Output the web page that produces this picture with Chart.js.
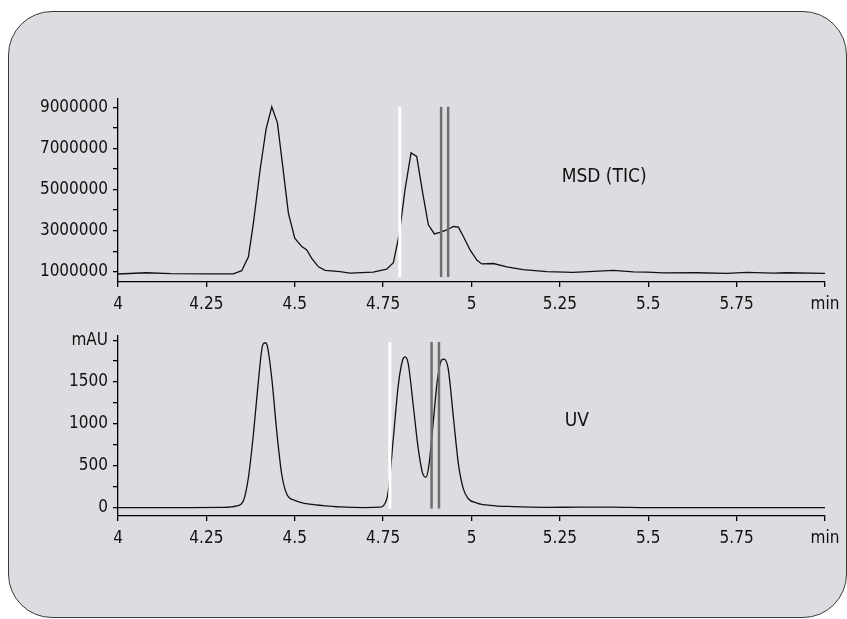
<!DOCTYPE html>
<html>
<head>
<meta charset="utf-8">
<script src="https://cdn.jsdelivr.net/npm/chart.js@4/dist/chart.umd.min.js"></script>
<style>
  html, body { margin: 0; padding: 0; background: #fff; }
  #wrap { position: relative; width: 847px; height: 619px; overflow: hidden; }
  #panel {
    position: absolute; left: 8px; top: 11px; width: 839px; height: 607px;
    box-sizing: border-box; border: 1.5px solid #3a3a3a; border-radius: 44px;
    background: #dcdde0;
  }
  canvas { position: absolute; left: 0; }
</style>
</head>
<body>
<div id="wrap">
  <div id="panel"></div>
  <canvas id="msd-chart" width="847" height="250" style="top:80px"></canvas>
  <canvas id="uv-chart" width="847" height="250" style="top:320px"></canvas>
</div>
<script>
const FONT = '"Liberation Sans Narrow", "DejaVu Sans Condensed", sans-serif';

// time axis (min), shared by both traces
const timeTicks = [4, 4.25, 4.5, 4.75, 5, 5.25, 5.5, 5.75, 6];
const timeTickLabels = ['4', '4.25', '4.5', '4.75', '5', '5.25', '5.5', '5.75', 'min'];

// MSD total ion current
const msdTime = [4.0, 4.08, 4.15, 4.25, 4.326, 4.35, 4.369, 4.383, 4.402, 4.419,
  4.435, 4.451, 4.466, 4.482, 4.5, 4.52, 4.534, 4.548, 4.567, 4.586,
  4.628, 4.656, 4.722, 4.76, 4.779, 4.796, 4.812, 4.829, 4.845, 4.862,
  4.878, 4.895, 4.911, 4.93, 4.949, 4.963, 4.977, 4.996, 5.015, 5.029,
  5.062, 5.1, 5.146, 5.213, 5.288, 5.345, 5.401, 5.458, 5.496, 5.543,
  5.637, 5.722, 5.778, 5.854, 5.891, 6.0];
const msdSignal = [890000, 950000, 910000, 900000, 900000, 1050000, 1730000, 3360000, 5960000, 7950000,
  9020000, 8240000, 6120000, 3850000, 2630000, 2220000, 2060000, 1650000, 1240000, 1070000,
  1000000, 930000, 980000, 1120000, 1440000, 2870000, 4990000, 6780000, 6610000, 4820000,
  3280000, 2840000, 2910000, 3030000, 3200000, 3170000, 2710000, 2060000, 1570000, 1380000,
  1400000, 1240000, 1100000, 1000000, 970000, 1020000, 1070000, 990000, 980000, 940000,
  950000, 920000, 970000, 930000, 950000, 920000];
const msdTicks = [1e6, 2e6, 3e6, 4e6, 5e6, 6e6, 7e6, 8e6, 9e6];
const msdTickLabels = ['1000000', '', '3000000', '', '5000000', '', '7000000', '', '9000000'];

// UV absorbance
const uvTime = [4.0, 4.2, 4.3, 4.336, 4.355, 4.369, 4.383, 4.397, 4.409, 4.416,
  4.422, 4.435, 4.449, 4.463, 4.477, 4.5, 4.534, 4.581, 4.628, 4.7,
  4.741, 4.751, 4.764, 4.779, 4.793, 4.805, 4.812, 4.821, 4.835, 4.849,
  4.861, 4.871, 4.88, 4.892, 4.903, 4.915, 4.922, 4.934, 4.949, 4.963,
  4.977, 4.991, 5.015, 5.052, 5.118, 5.213, 5.3, 5.401, 5.496, 5.75, 6.0];
const uvAbs = [0, 0, 2, 20, 86, 362, 875, 1505, 1938, 1970,
  1938, 1544, 914, 402, 165, 86, 47, 24, 8, 0,
  5, 24, 180, 835, 1466, 1761, 1800, 1721, 1229, 716,
  421, 362, 520, 1032, 1505, 1761, 1773, 1662, 1071, 520,
  224, 106, 55, 27, 12, 4, 5, 6, 0, 0, 0];
const uvTicks = [0, 250, 500, 750, 1000, 1250, 1500, 1750, 2000];
const uvTickLabels = ['0', '', '500', '', '1000', '', '1500', '', 'mAU'];

// fraction trigger (white) and collection window (grey) markers
const msdTrigger = 4.797;
const msdWindow = [4.914, 4.934];
const msdMarkRange = [740000, 9020000];
const uvTrigger = 4.769;
const uvWindow = [4.887, 4.908];
const uvMarkRange = [-10, 1980];

const curveLabel = {
  id: 'curveLabel',
  afterDatasetsDraw(chart, args, opts) {
    const { ctx, scales: { x, y } } = chart;
    ctx.save();
    ctx.font = '19px ' + FONT;
    ctx.fillStyle = '#111';
    ctx.textBaseline = 'middle';
    ctx.fillText(opts.text, x.getPixelForValue(opts.x), y.getPixelForValue(opts.y));
    ctx.restore();
  }
};

function vline(t, range, color, width) {
  return {
    data: [{ x: t, y: range[0] }, { x: t, y: range[1] }],
    borderColor: color, borderWidth: width, pointRadius: 0, order: 0
  };
}

function makeChart(id, o) {
  const axisFont = { family: FONT, size: 17 };
  const datasets = [
    vline(o.trigger, o.markRange, '#ffffff', 3),
    ...o.window.map(t => vline(t, o.markRange, '#6e6e6e', 2.5)),
    {
      data: o.xs.map((x, i) => ({ x: x, y: o.ys[i] })),
      borderColor: '#111', borderWidth: 1.3, pointRadius: 0,
      tension: o.smooth ? 0.4 : 0,
      cubicInterpolationMode: o.smooth ? 'monotone' : 'default',
      order: 1
    }
  ];
  return new Chart(document.getElementById(id), {
    type: 'line',
    data: { datasets: datasets },
    plugins: [curveLabel],
    options: {
      responsive: false,
      animation: false,
      layout: { padding: o.padding },
      plugins: {
        legend: { display: false },
        tooltip: { enabled: false },
        curveLabel: o.label
      },
      scales: {
        x: {
          type: 'linear', min: 4, max: 6,
          afterBuildTicks: s => { s.ticks = timeTicks.map(v => ({ value: v })); },
          afterFit: s => { s.height = 40; },
          ticks: {
            callback: (v, i) => timeTickLabels[i],
            font: axisFont, color: '#111', padding: 7, maxRotation: 0, autoSkip: false
          },
          grid: { drawOnChartArea: false, tickLength: 5, color: '#000', lineWidth: 1.3 },
          border: { color: '#000', width: 1.3 }
        },
        y: {
          type: 'linear', min: o.yMin, max: o.yMax,
          afterBuildTicks: s => { s.ticks = o.yTicks.map(v => ({ value: v })); },
          afterFit: s => { s.width = 118; },
          ticks: {
            callback: (v, i) => o.yTickLabels[i],
            font: axisFont, color: '#111', padding: 5, autoSkip: false
          },
          grid: { drawOnChartArea: false, tickLength: 5, color: '#000', lineWidth: 1.3 },
          border: { color: '#000', width: 1.3 }
        }
      }
    }
  });
}

makeChart('msd-chart', {
  xs: msdTime, ys: msdSignal, smooth: false,
  trigger: msdTrigger, window: msdWindow, markRange: msdMarkRange,
  yMin: 500000, yMax: 9400000, yTicks: msdTicks, yTickLabels: msdTickLabels,
  padding: { top: 19, right: 22, bottom: 8, left: 0 },
  label: { text: 'MSD (TIC)', x: 5.255, y: 5620000 }
});

makeChart('uv-chart', {
  xs: uvTime, ys: uvAbs, smooth: true,
  trigger: uvTrigger, window: uvWindow, markRange: uvMarkRange,
  yMin: -100, yMax: 2060, yTicks: uvTicks, yTickLabels: uvTickLabels,
  padding: { top: 13, right: 22, bottom: 14, left: 0 },
  label: { text: 'UV', x: 5.264, y: 1032 }
});
</script>
</body>
</html>
